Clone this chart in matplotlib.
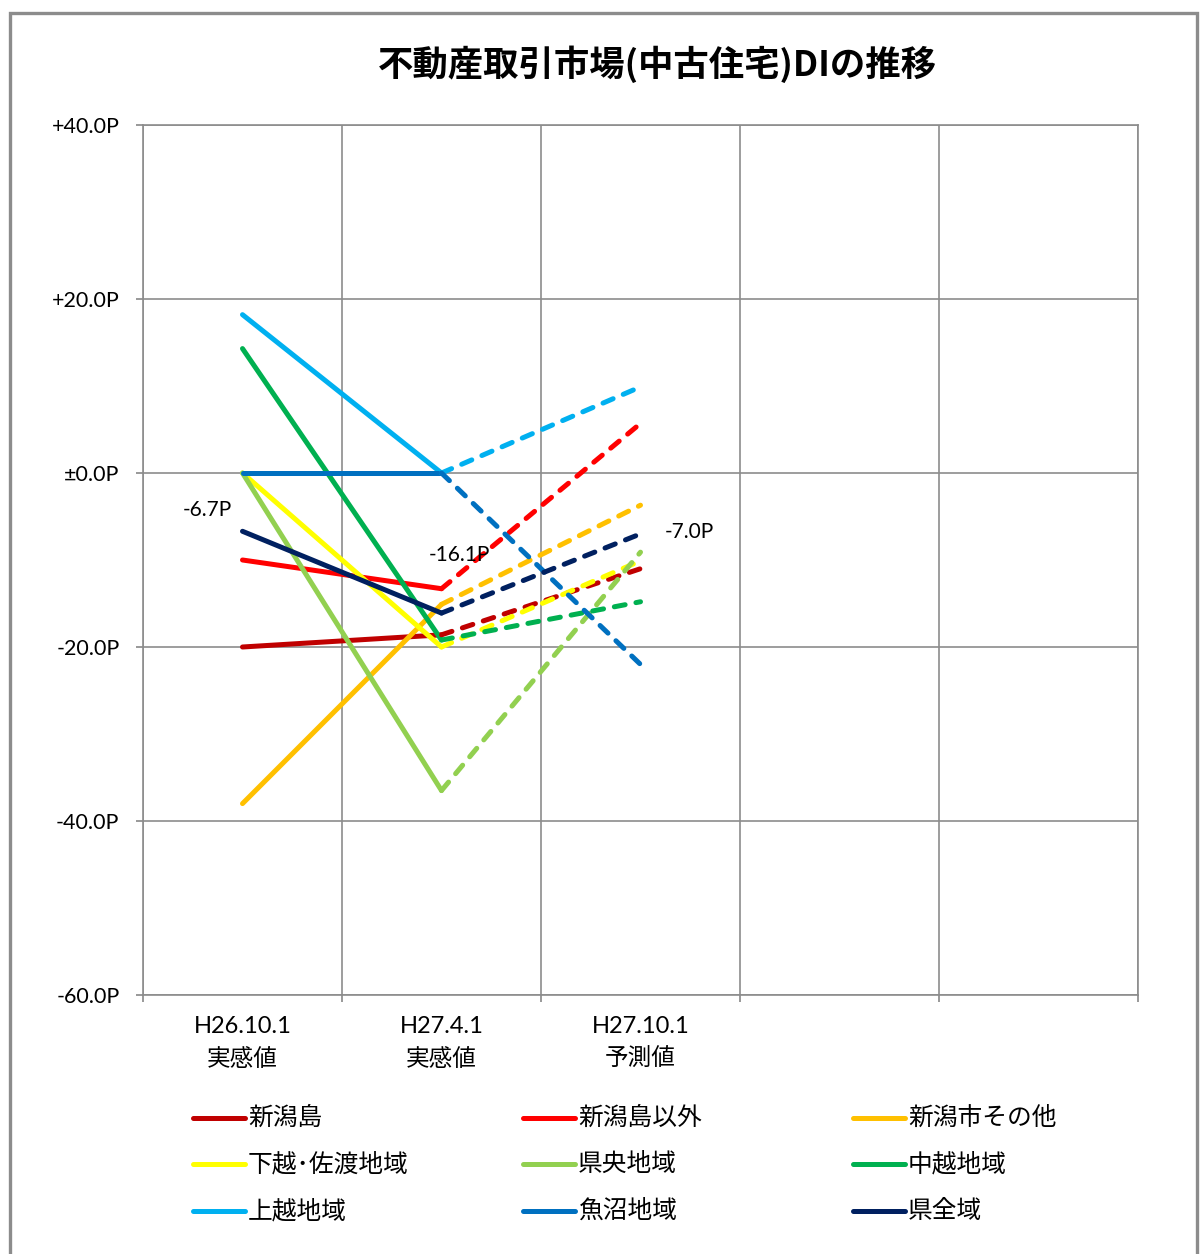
import matplotlib
matplotlib.use("Agg")
import matplotlib.pyplot as plt
from matplotlib.lines import Line2D
from matplotlib.patches import Rectangle

plt.rcParams['font.family'] = ['Lato', 'Noto Sans CJK JP', 'DejaVu Sans']

# data
periods = ["H26.10.1\n実感値", "H27.4.1\n実感値", "H27.10.1\n予測値", "", ""]
regions = ["新潟島", "新潟島以外", "新潟市その他", "下越･佐渡地域", "県央地域",
           "中越地域", "上越地域", "魚沼地域", "県全域"]
colors = ["#C00000", "#FF0000", "#FFC000", "#FFFF00", "#92D050",
          "#00B050", "#00B0F0", "#0070C0", "#002060"]
h26_10 = [-20.0, -10.0, -38.0, 0.0, 0.0, 14.3, 18.2, 0.0, -6.7]
h27_04 = [-18.6, -13.3, -15.1, -20.0, -36.5, -19.2, 0.0, 0.0, -16.1]
h27_10 = [-11.0, 5.7, -3.7, -10.1, -9.1, -14.8, 9.9, -22.0, -7.0]
yticks = [40, 20, 0, -20, -40, -60]
ylabels = ["+40.0P", "+20.0P", "±0.0P", "-20.0P", "-40.0P", "-60.0P"]

W, H = 1201, 1254
fig = plt.figure(figsize=(W / 100, H / 100), dpi=100)
ax = fig.add_axes([143 / W, 1 - 995 / H, (1138 - 143) / W, (995 - 125) / H])

xc = [0.5, 1.5, 2.5]
lw = 3.6
# actual values (solid)
for i in range(len(regions)):
    ax.plot(xc[:2], [h26_10[i], h27_04[i]], color=colors[i], lw=lw,
            solid_capstyle='round', solid_joinstyle='round', zorder=3)
# forecast (dashed)
for i in range(len(regions)):
    ax.plot(xc[1:], [h27_04[i], h27_10[i]], color=colors[i], lw=lw,
            dashes=(2.2, 2.2), dash_capstyle='round', zorder=3)

# data labels for 県全域
ax.annotate("%.1fP" % h26_10[8], (xc[0], h26_10[8]), xytext=(-25, 15),
            textcoords='offset points', ha='center', va='center', fontsize=15)
ax.annotate("%.1fP" % h27_04[8], (xc[1], h27_04[8]), xytext=(13, 42),
            textcoords='offset points', ha='center', va='center', fontsize=15)
ax.annotate("%.1fP" % h27_10[8], (xc[2], h27_10[8]), xytext=(35, 1.5),
            textcoords='offset points', ha='center', va='center', fontsize=15)

ax.set_xlim(0, 5)
ax.set_ylim(-60, 40)
ax.set_yticks(yticks)
ax.set_yticklabels(ylabels)
ax.set_xticks(range(6))
ax.set_xticklabels([])
ax.set_xticks([0.5, 1.5, 2.5, 3.5, 4.5], minor=True)
ax.set_xticklabels(periods, minor=True, linespacing=1.6)
ax.tick_params(axis='x', which='minor', length=0, pad=15, labelsize=17)
ax.tick_params(axis='x', which='major', length=5, width=1.2, color='#888888')
ax.tick_params(axis='y', length=5, width=1.2, color='#888888', pad=12, labelsize=15.5)
ax.grid(True, which='major', color='#8C8C8C', lw=1.2)
for s in ax.spines.values():
    s.set_color('#8C8C8C')
    s.set_linewidth(1.2)
ax.set_axisbelow(True)

fig.text(657 / W, 1 - 64 / H, "不動産取引市場(中古住宅)DIの推移", ha='center', va='center',
         fontsize=25.5, fontweight='bold', family=['Noto Sans CJK JP'])

# legend
col_x = [193, 523, 853]
row_y = [1118, 1164, 1211]
for i, name in enumerate(regions):
    r, c = divmod(i, 3)
    x0, y0 = col_x[c], row_y[r]
    fig.add_artist(Line2D([x0 / W, (x0 + 52) / W], [1 - y0 / H, 1 - y0 / H],
                          color=colors[i], lw=lw, solid_capstyle='round'))
    fig.text((x0 + 55) / W, 1 - y0 / H, name, ha='left', va='center', fontsize=17.8,
             family=['Noto Sans CJK JP'])

fig.add_artist(Rectangle((9.5 / W, -0.02), (1196.5 - 9.5) / W, 1.02 - 12.5 / H,
                         transform=fig.transFigure, fill=False, ec='#8C8C8C', lw=2.4))

fig.savefig("out.png", dpi=100)
